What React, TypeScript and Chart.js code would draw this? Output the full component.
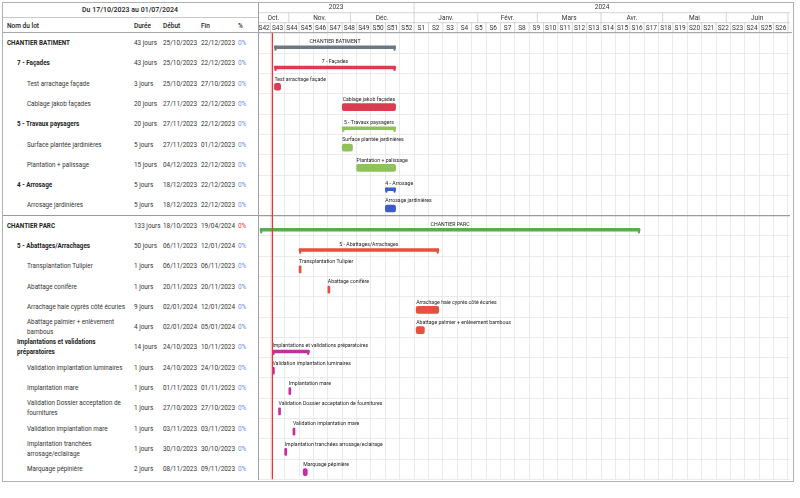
import React, { useEffect, useRef } from "react";
import { Chart, registerables } from "chart.js";
Chart.register(...registerables);

// ---------- data ----------
const rangeStart = "17/10/2023";
const rangeEnd = "01/07/2024";
const rangeTitle = "Du 17/10/2023 au 01/07/2024";
const todayDate = "24/10/2023";

const taskNames = [
  "CHANTIER BATIMENT",
  "7 - Façades",
  "Test arrachage façade",
  "Cablage jakob façades",
  "5 - Travaux paysagers",
  "Surface plantée jardinières",
  "Plantation + palissage",
  "4 - Arrosage",
  "Arrosage jardinières",
  "CHANTIER PARC",
  "5 - Abattages/Arrachages",
  "Transplantation Tulipier",
  "Abattage conifère",
  "Arrachage haie cyprès côté écuries",
  "Abattage palmier + enlèvement bambous",
  "Implantations et validations préparatoires",
  "Validation implantation luminaires",
  "Implantation mare",
  "Validation Dossier acceptation de fournitures",
  "Validation implantation mare",
  "Implantation tranchées arrosage/eclairage",
  "Marquage pépinière",
];
const taskLevels = [0, 1, 2, 2, 1, 2, 2, 1, 2, 0, 1, 2, 2, 2, 2, 1, 2, 2, 2, 2, 2, 2];
const taskDurations = [
  "43 jours", "43 jours", "3 jours", "20 jours", "20 jours", "5 jours", "15 jours", "5 jours", "5 jours",
  "133 jours", "50 jours", "1 jours", "1 jours", "9 jours", "4 jours", "14 jours", "1 jours", "1 jours",
  "1 jours", "1 jours", "1 jours", "2 jours",
];
const taskStarts = [
  "25/10/2023", "25/10/2023", "25/10/2023", "27/11/2023", "27/11/2023", "27/11/2023", "04/12/2023",
  "18/12/2023", "18/12/2023", "18/10/2023", "06/11/2023", "06/11/2023", "20/11/2023", "02/01/2024",
  "02/01/2024", "24/10/2023", "24/10/2023", "01/11/2023", "27/10/2023", "03/11/2023", "30/10/2023",
  "08/11/2023",
];
const taskEnds = [
  "22/12/2023", "22/12/2023", "27/10/2023", "22/12/2023", "22/12/2023", "01/12/2023", "22/12/2023",
  "22/12/2023", "22/12/2023", "19/04/2024", "12/01/2024", "06/11/2023", "20/11/2023", "12/01/2024",
  "05/01/2024", "10/11/2023", "24/10/2023", "01/11/2023", "27/10/2023", "03/11/2023", "30/10/2023",
  "09/11/2023",
];
const taskPercents = Array.from({ length: 22 }, () => "0%");
const taskIsSummary = [
  true, true, false, false, true, false, false, true, false, true, true, false, false, false, false,
  true, false, false, false, false, false, false,
];
const taskColors = [
  "#6d7885", "#dc3b50", "#dc3b50", "#dc3b50", "#8fc35a", "#8fc35a", "#8fc35a", "#3b5dc9", "#3b5dc9",
  "#5bab4f", "#e6503e", "#e6503e", "#e6503e", "#e6503e", "#e6503e", "#c2309e", "#c2309e", "#c2309e",
  "#c2309e", "#c2309e", "#c2309e", "#c2309e",
];
const percentColors = [
  "#6a8ee6", "#6a8ee6", "#6a8ee6", "#6a8ee6", "#6a8ee6", "#6a8ee6", "#6a8ee6", "#6a8ee6", "#6a8ee6",
  "#e53935", "#6a8ee6", "#6a8ee6", "#6a8ee6", "#6a8ee6", "#6a8ee6", "#6a8ee6", "#6a8ee6", "#6a8ee6",
  "#6a8ee6", "#6a8ee6", "#6a8ee6", "#6a8ee6",
];

const yearLabels = ["2023", "2024"];
const yearStarts = ["17/10/2023", "01/01/2024"];
const monthLabels = ["Oct.", "Nov.", "Déc.", "Janv.", "Févr.", "Mars", "Avr.", "Mai", "Juin", "Juil."];
const monthStarts = [
  "17/10/2023", "01/11/2023", "01/12/2023", "01/01/2024", "01/02/2024", "01/03/2024", "01/04/2024",
  "01/05/2024", "01/06/2024", "01/07/2024",
];
const weekLabels = [
  "S42", "S43", "S44", "S45", "S46", "S47", "S48", "S49", "S50", "S51", "S52",
  "S1", "S2", "S3", "S4", "S5", "S6", "S7", "S8", "S9", "S10", "S11", "S12", "S13", "S14", "S15",
  "S16", "S17", "S18", "S19", "S20", "S21", "S22", "S23", "S24", "S25", "S26", "S27",
];
const firstMonday = "23/10/2023";

// ---------- helpers ----------
const DAY = 86400000;
function parseDate(s: string) {
  const [d, m, y] = s.split("/").map(Number);
  return Date.UTC(y, m - 1, d);
}
function dayIndex(s: string) {
  return Math.round((parseDate(s) - parseDate(rangeStart)) / DAY);
}
const xMax = dayIndex(rangeEnd) + 1;
const mondays: number[] = [];
for (let d = dayIndex(firstMonday); d < xMax; d += 7) mondays.push(d);
const weekBounds = [0, ...mondays, xMax];

const ROWS = taskNames.length;
const TOP = 33;
const BOTTOM = 479.3;
const ROW_H = (BOTTOM - TOP) / ROWS;
const SEP_ROW = 9;

const FONT = "Roboto, 'Noto Sans', sans-serif";

const ganttPlugin = {
  id: "gantt",
  afterDatasetsDraw(chart: any) {
    const ctx = chart.ctx;
    const xs = chart.scales.x;
    const area = chart.chartArea;
    chart.data.datasets.forEach((ds: any, di: number) => {
      const meta = chart.getDatasetMeta(di);
      meta.data.forEach((el: any, j: number) => {
        const row = ds.data[j].row;
        const p = el.getProps(["x", "base", "y", "height"], true);
        const left = Math.min(p.x, p.base);
        const right = Math.max(p.x, p.base);
        const top = p.y - p.height / 2;
        if (taskIsSummary[row]) {
          ctx.save();
          ctx.fillStyle = taskColors[row];
          const hw = 2.2;
          const hh = p.height + 2.2;
          ctx.beginPath();
          ctx.roundRect(left, top, hw, hh, [0, 0, 1, 1]);
          ctx.roundRect(right - hw, top, hw, hh, [0, 0, 1, 1]);
          ctx.fill();
          ctx.restore();
        }
        ctx.save();
        ctx.font = `5.2px ${FONT}`;
        ctx.fillStyle = "#222";
        ctx.textBaseline = "middle";
        const name = taskNames[row];
        const w = ctx.measureText(name).width;
        if (w <= right - left) {
          ctx.textAlign = "center";
          ctx.fillText(name, (left + right) / 2, top - 4);
        } else {
          ctx.textAlign = "left";
          ctx.fillText(name, left, top - 4);
        }
        ctx.restore();
      });
    });
    const tx = xs.getPixelForValue(dayIndex(todayDate));
    ctx.save();
    ctx.strokeStyle = "#e53935";
    ctx.lineWidth = 1.3;
    ctx.beginPath();
    ctx.moveTo(tx, area.top);
    ctx.lineTo(tx, area.bottom);
    ctx.stroke();
    ctx.restore();
  },
  afterDraw(chart: any) {
    const ctx = chart.ctx;
    const xs = chart.scales.x;
    const area = chart.chartArea;
    const r1 = 0, r2 = 10.7, r3 = 20.7, r4 = area.top;
    ctx.save();
    ctx.fillStyle = "#fff";
    ctx.fillRect(area.left, 0, area.right - area.left, r4);
    ctx.strokeStyle = "#c9c9c9";
    ctx.lineWidth = 0.8;
    const hline = (y: number) => {
      ctx.beginPath();
      ctx.moveTo(area.left, y);
      ctx.lineTo(area.right, y);
      ctx.stroke();
    };
    hline(r2);
    hline(r3);
    ctx.font = `6.5px ${FONT}`;
    ctx.fillStyle = "#333";
    ctx.textBaseline = "middle";
    ctx.textAlign = "center";
    const drawRow = (bounds: number[], labels: string[], y0: number, y1: number) => {
      for (let i = 0; i < labels.length; i++) {
        const a = xs.getPixelForValue(bounds[i]);
        const b = xs.getPixelForValue(bounds[i + 1]);
        if (i > 0) {
          ctx.beginPath();
          ctx.moveTo(a, y0);
          ctx.lineTo(a, y1);
          ctx.stroke();
        }
        ctx.save();
        ctx.beginPath();
        ctx.rect(a, y0, b - a, y1 - y0);
        ctx.clip();
        const w = ctx.measureText(labels[i]).width;
        if (w < b - a) ctx.fillText(labels[i], (a + b) / 2, (y0 + y1) / 2 + 0.5);
        ctx.restore();
      }
    };
    drawRow([...yearStarts.map(dayIndex), xMax], yearLabels, r1, r2);
    drawRow([...monthStarts.map(dayIndex), xMax], monthLabels, r2, r3);
    drawRow(weekBounds, weekLabels, r3, r4);
    ctx.restore();
  },
};

function App() {
  const ref = useRef<HTMLCanvasElement | null>(null);
  useEffect(() => {
    document.body.style.margin = "0";
    const taskData: any[] = [];
    const taskCols: string[] = [];
    const sumData: any[] = [];
    const sumCols: string[] = [];
    taskNames.forEach((_, i) => {
      const s = dayIndex(taskStarts[i]);
      const e = dayIndex(taskEnds[i]) + 1;
      if (taskIsSummary[i]) {
        sumData.push({ x: [s, e], y: i + 0.2, row: i });
        sumCols.push(taskColors[i]);
      } else {
        taskData.push({ x: [s, e], y: i + 0.15, row: i });
        taskCols.push(taskColors[i]);
      }
    });
    const chart = new Chart(ref.current as HTMLCanvasElement, {
      type: "bar",
      data: {
        datasets: [
          {
            data: taskData,
            backgroundColor: taskCols,
            barThickness: 7,
            borderRadius: 2,
            borderSkipped: false,
            grouped: false,
          } as any,
          {
            data: sumData,
            backgroundColor: sumCols,
            barThickness: 2.8,
            borderRadius: 1,
            borderSkipped: false,
            grouped: false,
          } as any,
        ],
      },
      options: {
        indexAxis: "y",
        animation: false,
        responsive: true,
        maintainAspectRatio: false,
        layout: { padding: { top: 31, left: 0, right: 2, bottom: 0.7 } },
        plugins: { legend: { display: false }, tooltip: { enabled: false } },
        scales: {
          x: {
            type: "linear",
            min: 0,
            max: xMax,
            offset: false,
            position: "top",
            ticks: { display: false },
            border: { display: false },
            grid: { color: "#e6e6e6", lineWidth: 0.8, drawTicks: false, offset: false },
            afterBuildTicks: (scale: any) => {
              scale.ticks = mondays.map((v) => ({ value: v }));
            },
          },
          y: {
            type: "linear",
            min: -0.5,
            max: ROWS - 0.5,
            offset: false,
            reverse: true,
            ticks: { display: false },
            border: { display: false },
            grid: {
              offset: false,
              drawTicks: false,
              color: (c: any) => (c.tick && c.tick.value === SEP_ROW - 0.5 ? "#9a9a9a" : "#e6e6e6"),
              lineWidth: (c: any) => (c.tick && c.tick.value === SEP_ROW - 0.5 ? 1.2 : 0.8),
            },
            afterBuildTicks: (scale: any) => {
              const t: any[] = [];
              for (let i = 0; i <= ROWS; i++) t.push({ value: i - 0.5 });
              scale.ticks = t;
            },
          },
        },
      } as any,
      plugins: [ganttPlugin],
    });
    return () => chart.destroy();
  }, []);

  const indent = [7, 17, 27];
  return (
    <div
      style={{
        position: "absolute",
        left: 0,
        top: 0,
        width: 800,
        height: 498,
        background: "#fff",
        fontFamily: FONT,
        color: "#333",
        overflow: "hidden",
      }}
    >
      <div style={{ position: "absolute", left: 258, top: 2, width: 534, height: 478 }}>
        <canvas ref={ref} />
      </div>
      <div
        style={{
          position: "absolute", left: 2, top: 2, width: 256, height: 15,
          display: "flex", alignItems: "center", justifyContent: "center",
          fontSize: 7, fontWeight: 500, color: "#222",
        }}
      >
        {rangeTitle}
      </div>
      <div style={{ position: "absolute", left: 2, top: 17, width: 256, height: 1, background: "#c9c9c9" }} />
      {[
        ["Nom du lot", 7],
        ["Durée", 134],
        ["Début", 163],
        ["Fin", 201],
        ["%", 238],
      ].map(([t, x]) => (
        <div
          key={t as string}
          style={{ position: "absolute", left: x as number, top: 21, height: 10, lineHeight: "10px", fontSize: 6.5, fontWeight: 500, color: "#222", whiteSpace: "nowrap" }}
        >
          {t}
        </div>
      ))}
      {taskNames.map((name, i) => {
        const top = TOP + i * ROW_H;
        const lv = taskLevels[i];
        const cell = (x: number, txt: string, color?: string) => (
          <div
            style={{
              position: "absolute", left: x, top: 0, height: ROW_H, display: "flex", alignItems: "center",
              fontSize: 6.4, whiteSpace: "nowrap", color: color || "#333",
            }}
          >
            {txt}
          </div>
        );
        return (
          <div key={i} style={{ position: "absolute", left: 0, top, width: 258, height: ROW_H }}>
            <div
              style={{
                position: "absolute", left: indent[lv], top: 0, width: 130 - indent[lv], height: ROW_H,
                display: "flex", alignItems: "center", fontSize: 6.3, lineHeight: "10px",
                fontWeight: lv < 2 ? 700 : 400, color: lv < 2 ? "#222" : "#333",
              }}
            >
              <span>{name}</span>
            </div>
            {cell(134, taskDurations[i])}
            {cell(163, taskStarts[i])}
            {cell(201, taskEnds[i])}
            {cell(238, taskPercents[i], percentColors[i])}
          </div>
        );
      })}
      <div style={{ position: "absolute", left: 2, top: 31.5, width: 790, height: 1.5, background: "#a8a8a8" }} />
      <div style={{ position: "absolute", left: 2, top: TOP + SEP_ROW * ROW_H - 0.6, width: 256, height: 1.2, background: "#9a9a9a" }} />
      <div style={{ position: "absolute", left: 257.5, top: 2, width: 1.5, height: 478, background: "#a0a0a0" }} />
      <div style={{ position: "absolute", left: 1.5, top: 1.5, width: 790, height: 478, border: "1px solid #b0b0b0" }} />
    </div>
  );
}

export default App;
